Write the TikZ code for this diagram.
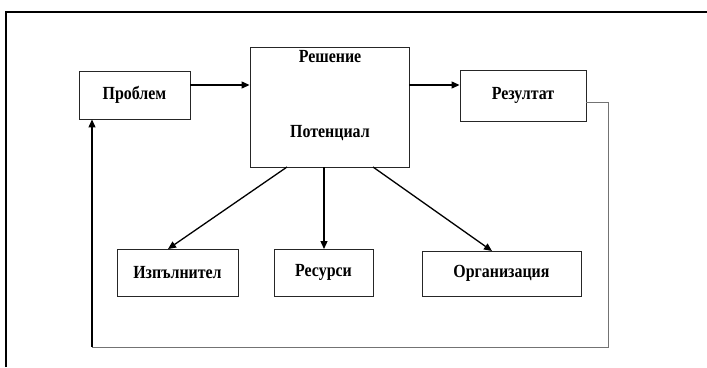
\documentclass[tikz,border=0pt]{standalone}
\usepackage{fontspec}
\setmainfont{Liberation Serif}
\newfontfamily\condfont[FakeStretch=0.86]{Liberation Serif}
\usetikzlibrary{arrows.meta}
\begin{document}
\begin{tikzpicture}[x=1pt,y=-1pt,
  box/.style={draw=black!85,line width=0.9pt,inner sep=0pt,font=\condfont\bfseries\fontsize{18.5}{20}\selectfont},
  lbl/.style={font=\condfont\bfseries\fontsize{18.5}{20}\selectfont,inner sep=0pt},
  arr/.style={draw=black,line width=1.3pt,-{Triangle[length=8pt,width=7pt]}},
  fb/.style={draw=black!55,line width=1pt}]
\useasboundingbox (0,0) rectangle (707,367);
% outer frame (top and left edges)
\draw[line width=1.5pt] (6,367) -- (6,12) -- (707,12);
% boxes
\node[box,minimum width=111pt,minimum height=48pt] (prob) at (134.5,95) {Проблем};
\node[box,minimum width=159pt,minimum height=120pt] (sol) at (329.5,107) {};
\node[lbl] (resh) at (330,57) {Решение};
\node[lbl] (pot) at (330,133) {Потенциал};
\node[box,minimum width=126pt,minimum height=51pt] (res) at (523,95.5) {Резултат};
\node[box,minimum width=121pt,minimum height=47pt] (izp) at (177.5,272.5) {Изпълнител};
\node[box,minimum width=99pt,minimum height=47pt] (rec) at (323.5,272.5) {Ресурси};
\node[box,minimum width=159pt,minimum height=45pt] (org) at (501.5,273.5) {Организация};
% arrows
\draw[arr] (prob.east |- 0,85) -- (sol.west |- 0,85);
\draw[arr] (sol.east |- 0,85) -- (res.west |- 0,85);
\coordinate (s1) at (287,167);
\coordinate (s2) at (324,167);
\coordinate (s3) at (373,167);
\draw[arr] (s1) -- (168,249);
\draw[arr] (s2) -- (324,249);
\draw[arr] (s3) -- (492,251);
% feedback loop
\coordinate (fbr) at (608,347);
\coordinate (fbl) at (92,347);
\draw[fb] (res.east |- 0,102) -| (fbr) -- (fbl);
\draw[arr,line width=1.2pt] (fbl) -- (prob.south -| fbl);
\end{tikzpicture}
\end{document}
